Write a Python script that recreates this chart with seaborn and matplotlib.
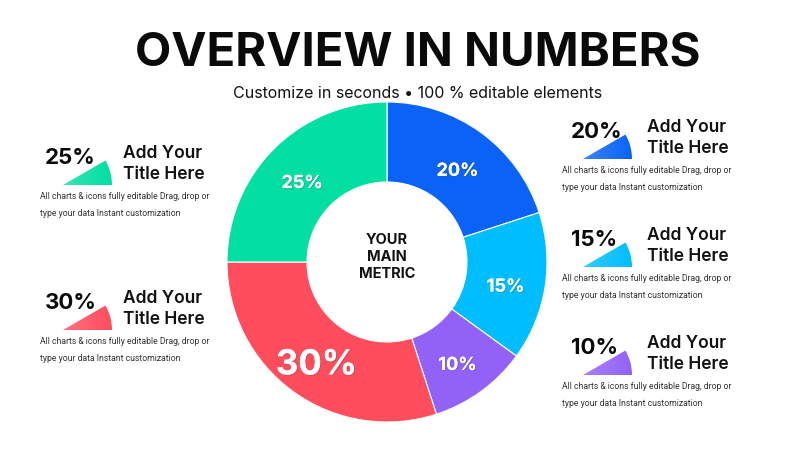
import matplotlib
matplotlib.use("Agg")
import matplotlib.pyplot as plt
import matplotlib.patheffects as pe
from matplotlib.colors import to_rgb
from matplotlib.patches import Wedge
import numpy as np
import seaborn as sns

# donut slices, clockwise from 12 o'clock
segments = ["Blue", "Cyan", "Purple", "Red", "Green"]
shares = [20, 15, 10, 30, 25]
colors = ["#0A63F6", "#00BDFD", "#9262F7", "#FF4D5E", "#03DEA2"]

# side cards (which share they show)
left_cards = [25, 30]
right_cards = [20, 15, 10]

title = "OVERVIEW IN NUMBERS"
subtitle = "Customize in seconds \u2022 100 % editable elements"
center_label = "YOUR\nMAIN\nMETRIC"
card_title = "Add Your\nTitle Here"
card_text = "All charts & icons fully editable Drag, drop or\ntype your data Instant customization"

sns.set_theme(style="white")
plt.rcParams["font.family"] = ["Inter", "DejaVu Sans"]

fig = plt.figure(figsize=(8, 4.5), dpi=100)
fig.patch.set_facecolor("white")

# --- donut ---
pie_ax = fig.add_axes([227 / 800, 28 / 450, 320 / 800, 320 / 450])
wedges, _, pcts = pie_ax.pie(
    shares, colors=colors, startangle=90, counterclock=False, radius=1,
    wedgeprops=dict(width=0.5, edgecolor="white", linewidth=0.8),
    autopct="%d%%", pctdistance=0.75,
    textprops=dict(color="white", fontsize=13, fontweight="bold"))
shadow = [pe.withSimplePatchShadow(offset=(0.8, -0.8), alpha=0.25), pe.Normal()]
for txt, v in zip(pcts, shares):
    txt.set_path_effects(shadow)
    x, y = txt.get_position()
    txt.set_position((x, y - 0.04))
    if v == max(shares):
        txt.set_fontsize(25)
pie_ax.text(0, 0.03, center_label, ha="center", va="center", fontsize=10.5,
            fontweight="bold", color="#111111", linespacing=1.25)
pie_ax.set_xlim(-1, 1)
pie_ax.set_ylim(-1, 1)
pie_ax.axis("off")

# --- overlay in pixel coords ---
ax = fig.add_axes([0, 0, 1, 1])
ax.set_xlim(0, 800)
ax.set_ylim(450, 0)
ax.axis("off")
ax.set_autoscale_on(False)

ax.text(418, 53, title, ha="center", va="center", fontsize=34,
        fontweight="bold", color="#0a0a0a")
ax.text(418, 93, subtitle, ha="center", va="center", fontsize=11.5, color="#111111")


def icon(x, y, color):
    w = Wedge((x, y), 49, -30, 0, facecolor="none", edgecolor="none")
    ax.add_patch(w)
    c = np.array(to_rgb(color))
    light = 1 - (1 - c) * 0.8
    t = np.linspace(0, 1, 64)[:, None]
    grad = (light * (1 - t) + c * t)[None, :, :]
    im = ax.imshow(grad, extent=(x, x + 50, y, y - 26), aspect="auto",
                   interpolation="bilinear", zorder=2)
    im.set_clip_path(w)


def card(v, x0, y0, dx):
    col = colors[shares.index(v)]
    ax.text(x0, y0, f"{v}%", ha="left", va="center", fontsize=16,
            fontweight="bold", color="#0a0a0a", zorder=3)
    icon(x0 + dx[0], y0 + 27, col)
    ax.text(x0 + dx[1], y0 + 6, card_title, ha="left", va="center", fontsize=12.5,
            fontweight="semibold", color="#111111", linespacing=1.3)
    ax.text(x0 + dx[2], y0 + 47, card_text, ha="left", va="center", fontsize=6.2,
            family=["Roboto", "DejaVu Sans"], color="#333333", linespacing=2.05)


for v, y0 in zip(left_cards, [158, 303]):
    card(v, 45, y0, (18, 78, -5))
for v, y0 in zip(right_cards, [132, 240, 348]):
    card(v, 571, y0, (12, 76, -9))

fig.savefig("out.png", dpi=100, facecolor="white")
